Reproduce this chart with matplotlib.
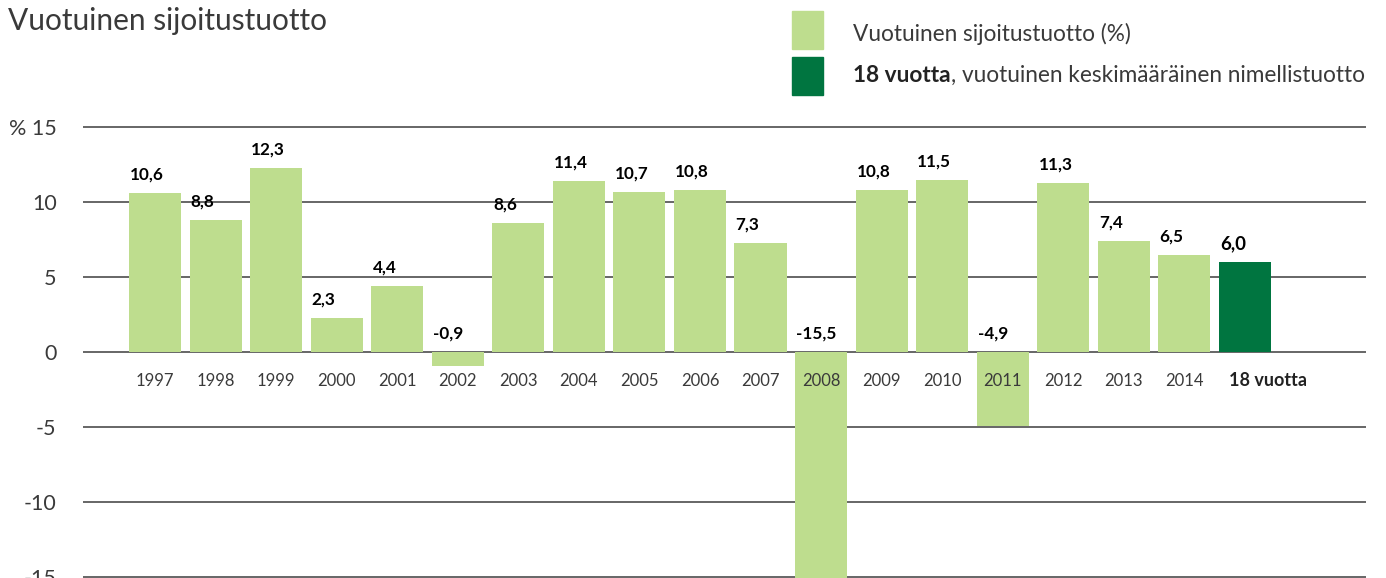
import matplotlib.pyplot as plt
from matplotlib.patches import Rectangle

years = ['1997', '1998', '1999', '2000', '2001', '2002', '2003', '2004', '2005',
         '2006', '2007', '2008', '2009', '2010', '2011', '2012', '2013', '2014']
returns = [10.6, 8.8, 12.3, 2.3, 4.4, -0.9, 8.6, 11.4, 10.7,
           10.8, 7.3, -15.5, 10.8, 11.5, -4.9, 11.3, 7.4, 6.5]
avg_label = '18 vuotta'
avg_value = 6.0
yticks = [-15, -10, -5, 0, 5, 10, 15]
ytick_labels = ['-15', '-10', '-5', '0', '5', '10', '% 15']

light = '#bedd8e'
dark = '#007540'
grid_col = '#5a5a5a'
text_col = '#3a3a3a'

plt.rcParams['font.family'] = ['Lato', 'DejaVu Sans']

W, H = 1386, 578
fig = plt.figure(figsize=(W / 100, H / 100), dpi=100)

def fx(px):
    return px / W

def fy(py):
    return 1 - py / H

ax = fig.add_axes([fx(83), 0, fx(1366) - fx(83), 1 - 117 / H])
ax.set_ylim(-15 - 1 / 15, 15 + 10 / 15)
ax.set_xlim(-1.19, 20.0)

labels = years + [avg_label]
values = returns + [avg_value]
colors = [light] * len(years) + [dark]
xs = list(range(len(values)))
bw = 0.86
ax.bar(xs, values, width=bw, color=colors, zorder=3)

for x, v, lab in zip(xs, values, labels):
    bold = lab == avg_label
    txt = ('%.1f' % v).replace('.', ',')
    ty = v + 1.2 if v >= 0 else 1.25
    # value labels sit flush with the bar's left edge
    ax.text(x - bw / 2 + 0.02, ty, txt, ha='left', va='center',
            fontsize=13.5 if bold else 12.3,
            fontweight='bold', color='black', zorder=5)
    ax.text(x + (0.38 if bold else 0), -1.9, lab, ha='center', va='center',
            fontsize=13 if bold else 12,
            color='#222222' if bold else text_col,
            fontweight='bold' if bold else 'normal', zorder=5)

ax.set_yticks(yticks)
ax.set_yticklabels(ytick_labels, fontsize=15.5, color=text_col)
ax.set_xticks([])
ax.tick_params(axis='y', length=0, pad=19)
for y in yticks:
    ax.axhline(y, color=grid_col, lw=1.3, zorder=1)
for s in ax.spines.values():
    s.set_visible(False)

fig.text(fx(8), fy(21), 'Vuotuinen sijoitustuotto', fontsize=21.5,
         color=text_col, ha='left', va='center')

fig.add_artist(Rectangle((fx(792), fy(49)), fx(823) - fx(792), fy(11) - fy(49),
                         transform=fig.transFigure, color=light))
fig.add_artist(Rectangle((fx(792), fy(95)), fx(823) - fx(792), fy(57) - fy(95),
                         transform=fig.transFigure, color=dark))
fig.text(fx(853), fy(34), 'Vuotuinen sijoitustuotto (%)', fontsize=16.3,
         color=text_col, ha='left', va='center')
b = fig.text(fx(853), fy(82), avg_label, fontsize=16.3, fontweight='bold',
             color='#222222', ha='left', va='baseline')
ax.annotate(', vuotuinen keskimääräinen nimellistuotto', xy=(1, 0),
            xycoords=b, va='bottom', ha='left', fontsize=16.3,
            color=text_col, annotation_clip=False)

fig.savefig('out.png', dpi=100)
